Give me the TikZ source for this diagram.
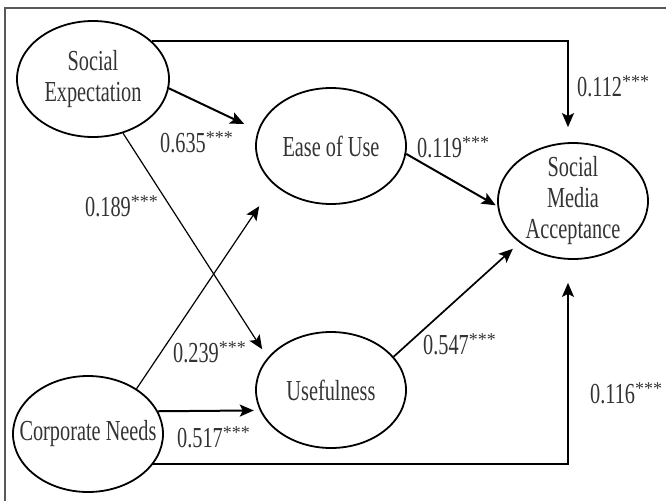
\documentclass[tikz,border=0pt]{standalone}
\usepackage{fontspec}
\setmainfont[FakeStretch=0.7]{Liberation Serif}
\newfontfamily\starfont{Liberation Serif}
\usetikzlibrary{shapes.geometric,arrows.meta}
\newcommand{\stars}{\raisebox{9pt}{\starfont\fontsize{18}{18}\selectfont ***}}
\begin{document}
\begin{tikzpicture}[x=1pt,y=-1pt,
  ell/.style={draw=black, line width=1.8pt, ellipse, minimum width=150pt, minimum height=116pt, inner sep=0pt},
  txt/.style={font=\fontsize{29}{31}\selectfont, text=black!80, align=center, inner sep=0pt},
  coef/.style={font=\fontsize{29}{31}\selectfont, text=black!80, inner sep=0pt, anchor=base west},
  tip/.style={-{Stealth[length=14pt,width=12pt,inset=3pt]}},
  thickline/.style={tip, line width=2pt},
  midline/.style={tip, line width=1.7pt},
  thinline/.style={tip, line width=1.2pt},
  frame/.style={draw=black!65, line width=1.5pt}
]
\useasboundingbox (0,0) rectangle (666,501);
\draw[frame] (5,501) -- (5,8) -- (666,8);

\node[ell, minimum width=152pt, label={[txt]center:Social\\Expectation}] (se) at (93,79) {};
\node[ell, label={[txt]center:Ease of Use}] (eu) at (331,146) {};
\node[ell, label={[txt]center:Social\\Media\\Acceptance}] (sma) at (573,201) {};
\node[ell, label={[txt]center:Usefulness}] (us) at (331,390) {};
\node[ell, label={[txt]center:Corporate Needs}] (cn) at (88,434) {};

\draw[thickline, shorten >=15pt] (se.-7.6) -- (eu.168.5);
\draw[thinline, shorten >=10pt] (se.-61.8) -- (us.153.8);
\draw[thinline, shorten >=26pt] (cn.43.8) -- (eu.214.9);
\draw[thickline, shorten >=6pt] (cn.18) -- (us.196.7);
\draw[midline, shorten >=23pt] (cn.-25.2) -| ([xshift=-5pt]sma.south);
\draw[midline, shorten >=15pt] (se.33.5) -| ([xshift=-5pt]sma.north);
\draw[thickline, shorten >=2pt] (eu.-6) -- (sma.184);
\draw[midline, shorten >=9pt] (us.28.7) -- (sma.218.8);

\node[coef] (l1) at (160,152) {0.635\stars};
\node[coef] (l2) at (85,216) {0.189\stars};
\node[coef] (l3) at (577,96) {0.112\stars};
\node[coef] (l4) at (417,157) {0.119\stars};
\node[coef] (l5) at (173,362) {0.239\stars};
\node[coef] (l6) at (177,447) {0.517\stars};
\node[coef] (l7) at (423,354) {0.547\stars};
\node[coef] (l8) at (590,403) {0.116\stars};
\end{tikzpicture}
\end{document}
